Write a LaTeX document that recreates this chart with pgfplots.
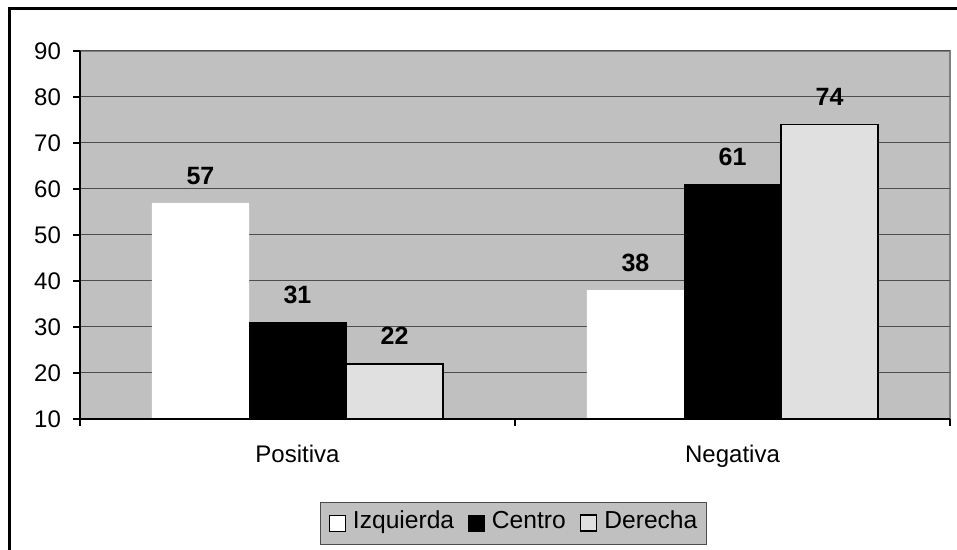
\documentclass[border=0pt]{standalone}
\usepackage{fontspec}
\setmainfont{Liberation Sans}
\usepackage{pgfplots}
\pgfplotsset{compat=1.18}
\definecolor{plotbg}{HTML}{C0C0C0}
\definecolor{lightbar}{HTML}{E0E0E0}
\definecolor{gridc}{HTML}{4D4D4D}

\begin{document}
\begin{tikzpicture}
  % 1px = 0.5pt, picture 957x550 px
  \path[use as bounding box] (0,0) rectangle (478.5pt,275pt);
  \draw[line width=1.5pt] (4.5pt,0) -- (4.5pt,270.5pt) -- (478.5pt,270.5pt);
  \begin{axis}[
      at={(40pt,65.5pt)}, anchor=south west,
      scale only axis,
      width=435pt, height=184pt,
      xmin=-0.5, xmax=1.5,
      ymin=10, ymax=90,
      ybar=0pt,
      bar width=0.223,
      xtick={0,1},
      xticklabels={Positiva,Negativa},
      minor xtick={-0.5,0.5,1.5},
      ytick={10,20,...,90},
      xtick pos=bottom, ytick pos=left,
      tick align=outside,
      major tick length=3.5pt,
      x tick style={draw=none},
      minor x tick style={draw=black, line width=0.8pt},
      minor tick length=3.5pt,
      y tick style={black, line width=0.6pt},
      axis line style={draw=none},
      axis background/.style={fill=plotbg, draw=black!50, line width=0.8pt},
      ymajorgrids,
      grid style={gridc, line width=0.5pt},
      tick label style={font=\fontsize{12}{14}\selectfont},
      /pgf/number format/assume math mode=true,
      yticklabel style={xshift=-2.5pt},
      xticklabel style={yshift=-6pt},
      nodes near coords,
      every node near coord/.append style={font=\bfseries\fontsize{12.5}{14}\selectfont, anchor=south, inner sep=0pt, yshift=9pt},
      area legend,
      legend columns=3,
      legend style={at={(0.498,-0.283)}, anchor=center, fill=plotbg, draw=black!70,
        font=\fontsize{12.3}{14}\selectfont, inner xsep=4.5pt, inner ysep=6pt,
        nodes={text height=0.72em, text depth=0.2em, inner sep=0pt},
        /tikz/every odd column/.append style={column sep=3.5pt},
        /tikz/every even column/.append style={column sep=7pt}},
      legend image code/.code={\draw[#1] (0pt,-4pt) rectangle (8pt,4pt);},
    ]
    \addplot[fill=white, draw=none] coordinates {(0,57) (1,38)};
    \addplot[fill=black, draw=black] coordinates {(0,31) (1,61)};
    \addplot[fill=lightbar, draw=black, line width=0.8pt] coordinates {(0,22) (1,74)};
    \legend{Izquierda,Centro,Derecha}
  \end{axis}
  \draw[black, line width=0.8pt] (40pt,64pt) -- (40pt,249.5pt);
  \draw[black, line width=0.8pt] (40pt,65.5pt) -- (475pt,65.5pt);
\end{tikzpicture}
\end{document}
